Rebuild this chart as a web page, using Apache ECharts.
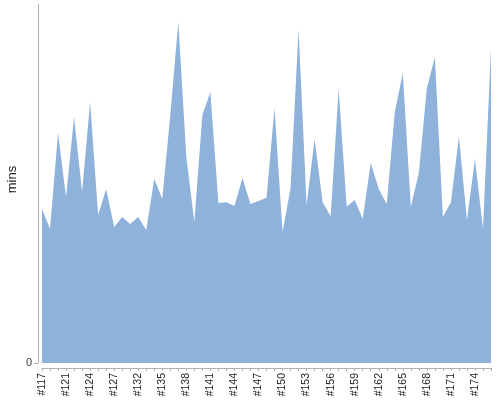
<!DOCTYPE html>
<html>
<head>
<meta charset="utf-8">
<script src="https://cdn.jsdelivr.net/npm/echarts@6/dist/echarts.min.js"></script>
<style>html,body{margin:0;padding:0;background:#fff}#c{width:500px;height:400px}</style>
</head>
<body>
<div id="c"></div>
<script>
const categories = ['#117','#118','#120','#121','#122','#123','#124','#125','#126','#127','#129','#130',
  '#132','#133','#134','#135','#136','#137','#138','#139','#140','#141','#142','#143','#144','#145','#146',
  '#147','#148','#149','#150','#151','#152','#153','#154','#155','#156','#157','#158','#159','#160','#161',
  '#162','#163','#164','#165','#166','#167','#168','#169','#170','#171','#172','#173','#174','#175','#176'];
const mins = [42.9,37.3,64.1,46.2,68.5,47.6,72.7,41.2,48.5,37.9,40.7,38.7,
  40.7,37.0,51.3,45.7,69.1,95.0,57.4,39.3,69.1,75.5,44.6,44.8,43.7,51.5,44.3,
  45.1,46.0,71.0,36.5,48.7,93.0,44.0,62.4,44.8,40.9,76.3,43.5,45.4,40.1,55.7,
  48.5,44.3,69.9,80.8,43.5,52.9,76.6,85.2,40.7,44.8,63.0,39.8,56.8,37.3,87.7];
const yName = 'mins';

const chart = echarts.init(document.getElementById('c'), null, {renderer: 'canvas'});
chart.setOption({
  animation: false,
  grid: {left: 42, right: 9, top: 4, bottom: 37, containLabel: false, outerBoundsMode: 'none'},
  xAxis: {
    type: 'category',
    data: categories,
    boundaryGap: false,
    offset: 5,
    axisLine: {show: true, onZero: false, lineStyle: {color: '#b0b0b0', width: 1}},
    axisTick: {show: true, interval: 0, length: 3, lineStyle: {color: '#b0b0b0'}},
    axisLabel: {interval: 2, rotate: 90, fontSize: 10.5, color: '#222', margin: 5, fontFamily: 'Liberation Sans, Arial, sans-serif'},
    splitLine: {show: false}
  },
  yAxis: {
    type: 'value',
    min: 0, max: 100, interval: 100,
    offset: 4,
    name: yName,
    nameLocation: 'middle',
    nameGap: 19,
    nameMoveOverlap: false,
    nameTextStyle: {fontSize: 13, color: '#222', padding: [0, 0, 0, 8], fontFamily: 'Liberation Sans, Arial, sans-serif'},
    axisLine: {show: true, lineStyle: {color: '#b0b0b0', width: 1}},
    axisTick: {show: true, length: 4, customValues: [0], lineStyle: {color: '#b0b0b0'}},
    axisLabel: {customValues: [0], fontSize: 11, color: '#444', margin: 6, fontFamily: 'Liberation Sans, Arial, sans-serif'},
    splitLine: {show: false}
  },
  series: [{
    type: 'line',
    data: mins,
    symbol: 'none',
    lineStyle: {width: 0},
    areaStyle: {color: '#8fb2db', opacity: 1}
  }]
});
</script>
</body>
</html>
